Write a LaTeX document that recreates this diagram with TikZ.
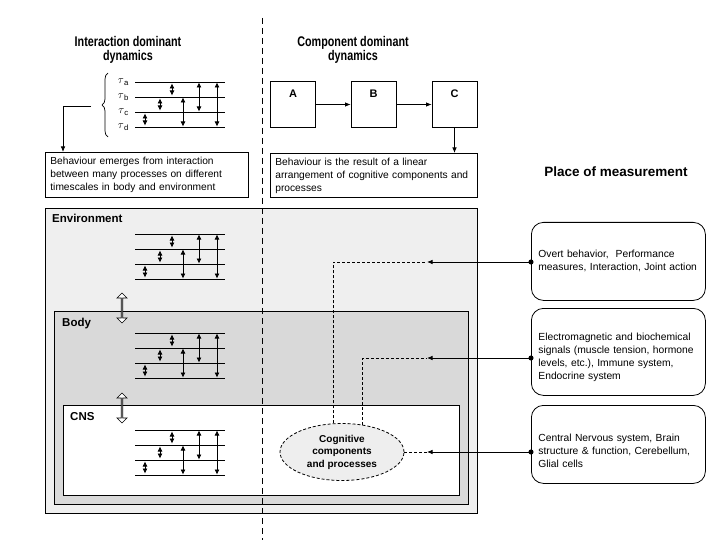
\documentclass[tikz,border=0pt]{standalone}
\usepackage{fontspec}
\setmainfont{Liberation Sans}
\newfontfamily\narrowfont[FakeStretch=0.77]{Liberation Sans}
\usetikzlibrary{positioning,calc,shapes.geometric,shapes.arrows,decorations.pathreplacing,arrows.meta}
\definecolor{EnvGray}{RGB}{239,239,239}
\definecolor{BodyGray}{RGB}{217,217,217}
\definecolor{CogGray}{RGB}{238,238,238}

\begin{document}
\begin{tikzpicture}[x=1pt, y=-1pt,
    % Text styles
    title/.style={font=\narrowfont\fontsize{14}{14.5}\selectfont\bfseries, align=center},
    lbl/.style={font=\fontsize{11.5}{13}\selectfont\bfseries, anchor=north west, inner sep=0pt},
    tau/.style={font=\fontsize{11}{12}\selectfont, anchor=east, inner sep=1pt},
    % Box styles
    txtbox/.style={draw=black, line width=0.8pt, anchor=north west, align=left, inner xsep=5pt, inner ysep=2pt, font=\fontsize{10.2}{13}\selectfont},
    compbox/.style={draw=black, line width=0.8pt, minimum width=45pt, inner sep=0pt, text height=16pt, text depth=30pt, font=\fontsize{11}{13}\selectfont\bfseries},
    areabox/.style={draw=black, line width=0.8pt, anchor=north west, inner sep=0pt},
    measbox/.style={draw=black, line width=0.8pt, rounded corners=12pt, anchor=north west, align=left, inner xsep=7pt, text width=160pt, minimum width=174pt, font=\fontsize{10.3}{13}\selectfont},
    cogn/.style={ellipse, draw=black, dash pattern=on 3pt off 2pt, line width=0.8pt, fill=CogGray, minimum width=124pt, minimum height=57pt, inner sep=0pt, align=center, font=\fontsize{10}{12.5}\selectfont\bfseries},
    dblarrow/.style={double arrow, draw=black, fill=white, line width=0.7pt, minimum height=30pt, minimum width=10pt, inner sep=0pt, double arrow head extend=2pt, double arrow head indent=0pt, rotate=90},
    % Connector styles
    arr/.style={-{Latex[length=5.5pt,width=4.5pt]}, line width=0.8pt},
    tarrow/.style={{Latex[length=5pt,width=5pt]}-{Latex[length=5pt,width=5pt]}, line width=0.7pt},
    tline/.style={line width=0.8pt},
    dashline/.style={line width=0.8pt, dash pattern=on 3pt off 2pt},
    measarr/.style={{Circle[length=5pt]}-{Latex[length=5.5pt,width=4.5pt]}, line width=0.8pt, shorten <=-2.5pt},
    divider/.style={line width=0.8pt, dash pattern=on 6pt off 4pt}
]
    \useasboundingbox (0,0) rectangle (720,540);

    % --- TITLES ---
    \node[title] (idtitle) at (128,50) {Interaction dominant\\dynamics};
    \node[title] (cdtitle) at (353,50) {Component dominant\\dynamics};
    \node[title, font=\fontsize{13.5}{15}\selectfont\bfseries] (placetitle) at (616,172) {Place of measurement};

    % --- AREAS ---
    \node[areabox, fill=EnvGray, minimum width=432pt, minimum height=305pt] (env) at (45,208) {};
    \node[areabox, fill=BodyGray, minimum width=414pt, minimum height=193pt] (body) at (54,311) {};
    \node[areabox, fill=white, minimum width=396pt, minimum height=90pt] (cns) at (63,405) {};
    \node[lbl] (envlbl) at (52,214) {Environment};
    \node[lbl] (bodylbl) at (62,318) {Body};
    \node[lbl] (cnslbl) at (70,412) {CNS};

    % --- TIMESCALES ---
    \node[tau] (ta) at (130,82) {$\tau$\textsubscript{a}};
    \node[tau] (tb) at (130,97) {$\tau$\textsubscript{b}};
    \node[tau] (tc) at (130,112) {$\tau$\textsubscript{c}};
    \node[tau] (td) at (130,127) {$\tau$\textsubscript{d}};
    \foreach \y in {82,234,333,430} {
        \draw[tline] (135,\y) -- (225,\y);
        \draw[tline] (135,\y+15) -- (225,\y+15);
        \draw[tline] (135,\y+30) -- (225,\y+30);
        \draw[tline] (135,\y+45) -- (225,\y+45);
        \draw[tarrow] (172,\y+1.5) -- (172,\y+13.5);
        \draw[tarrow] (160,\y+16.5) -- (160,\y+28.5);
        \draw[tarrow] (145,\y+31.5) -- (145,\y+43.5);
        \draw[tarrow] (183,\y+15.5) -- (183,\y+44.5);
        \draw[tarrow] (199,\y+0.5) -- (199,\y+29.5);
        \draw[tarrow] (217,\y+0.5) -- (217,\y+44.5);
    }
    \coordinate (brtop) at (108,73);
    \coordinate (brbot) at (108,137);
    \coordinate (brtip) at (91,106);
    \draw[decorate, decoration={brace, amplitude=6pt}, line width=0.7pt] (brbot) -- (brtop);

    % Hollow arrows between levels
    \node[dblarrow] (envbody) at (122,308) {};
    \node[dblarrow] (bodycns) at (122,408) {};

    % --- DESCRIPTION BOXES ---
    \node[txtbox, text width=193pt, minimum height=45pt] (idd) at (45,152)
        {Behaviour emerges from interaction\\between many processes on different\\timescales in body and environment};
    \node[txtbox, text width=197pt, minimum height=44pt] (cdd) at (270,153)
        {Behaviour is the result of a linear\\arrangement of cognitive components and\\processes};
    \draw[arr] (brtip) -| ($(idd.north west)+(18,0)$);

    % --- COMPONENTS ---
    \node[compbox] (A) at (293,104.5) {A};
    \node[compbox] (B) at (373.5,104.5) {B};
    \node[compbox] (C) at (454.5,104.5) {C};
    \draw[arr] (A) -- (B);
    \draw[arr] (B) -- (C);
    \draw[arr] (C) -- (C |- cdd.north);

    % --- DIVIDER ---
    \coordinate (divtop) at (262,18);
    \coordinate (divbot) at (262,540);
    \draw[divider] (divtop) -- (divbot);

    % --- MEASUREMENT ---
    % (struts push the text a little below the box middle, as in the reference)
    \node[measbox, minimum height=78pt] (ovr) at (531,222)
        {Overt behavior, \ Performance\\measures, Interaction, Joint action};
    \node[measbox, minimum height=87pt] (sig) at (531,308)
        {\rule{0pt}{18pt}Electromagnetic and biochemical\\signals (muscle tension, hormone\\levels, etc.), Immune system,\\Endocrine system};
    \node[measbox, minimum height=78pt] (cnsm) at (531,405)
        {\rule{0pt}{21pt}Central Nervous system, Brain\\structure \& function, Cerebellum,\\Glial cells};

    \node[cogn] (cog) at (342,452) {Cognitive\\components\\and processes};
    \coordinate (m1) at (427,262);
    \coordinate (m2) at (427,358);
    \coordinate (m3) at (427,452);
    \draw[measarr] (ovr.west |- m1) -- (m1);
    \draw[measarr] (sig.west |- m2) -- (m2);
    \draw[measarr] (cnsm.west |- m3) -- (m3);
    \draw[dashline] (cog.106) |- (m1);
    \draw[dashline] (cog.53) |- (m2);
    \draw[dashline] (cog.east) -- (m3);
\end{tikzpicture}
\end{document}
